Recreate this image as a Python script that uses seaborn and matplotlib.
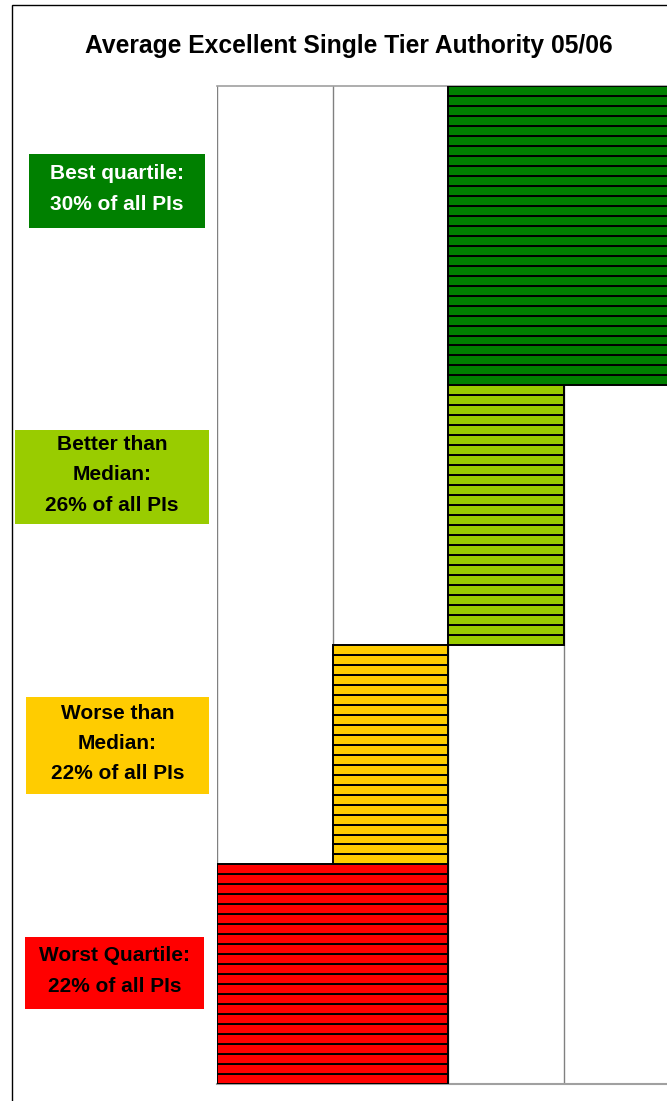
import numpy as np
import pandas as pd
import matplotlib
matplotlib.use("Agg")
import matplotlib.pyplot as plt
from matplotlib.patches import Rectangle
import seaborn as sns

# ---------------- data ----------------
title = "Average Excellent Single Tier Authority 05/06"
groups = ["Worst Quartile:", "Worse than\nMedian:", "Better than\nMedian:", "Best quartile:"]
shares = [22, 22, 26, 30]          # % of all PIs, one stripe per percent
col_start = [0, 1, 2, 2]           # column where each band starts
col_span = [2, 1, 1, 2]            # number of columns each band covers
n_columns = 4

colors = ["#FF0000", "#FFCC00", "#99CC00", "#008000"]
text_colors = ["black", "black", "black", "white"]

# label boxes (pixel layout: x0, y0, x1, y1)
boxes = [(25, 937, 204, 1009), (26, 697, 209, 794), (15, 430, 209, 524), (29, 154, 205, 228)]

W, H = 667, 1101

sns.set_theme(style="white")
plt.rcParams["font.family"] = ["Liberation Sans", "DejaVu Sans"]

fig = plt.figure(figsize=(W / 100, H / 100), dpi=100)
fig.patch.set_facecolor("white")

# plot area: x 217 .. (217 + 4*col_w), y 86 .. 1084
ax_left, ax_top, ax_bottom, col_w = 217, 86, 1084, 115.7
ax = fig.add_axes([ax_left / W, 1 - ax_bottom / H, n_columns * col_w / W, (ax_bottom - ax_top) / H])
ax.set_facecolor("white")

rows = []
base = 0
for g, s, c0, sp in zip(groups, shares, col_start, col_span):
    for k in range(s):
        rows.append(dict(group=g, pos=base + k + 0.5, span=sp))
    base += s
df = pd.DataFrame(rows)

for i, g in enumerate(groups):
    sub = df[df["group"] == g]
    sns.barplot(data=sub, x="span", y="pos", orient="y", native_scale=True,
                left=col_start[i], color=colors[i], saturation=1,
                edgecolor="black", linewidth=1.4, width=1, errorbar=None,
                ax=ax, zorder=3)

for c in range(n_columns):
    ax.axvline(c, color="#808080", lw=1.0, zorder=1)

ax.set_xlim(0, n_columns)
ax.set_ylim(0, 100)
ax.set_xticks([])
ax.set_yticks([])
ax.set_xlabel("")
ax.set_ylabel("")
for side in ["left", "right"]:
    ax.spines[side].set_visible(False)
ax.spines["top"].set_color("#A0A0A0")
ax.spines["bottom"].set_color("#A0A0A0")
ax.spines["top"].set_linewidth(1.2)
ax.spines["bottom"].set_linewidth(1.5)

# outer chart frame
fig.add_artist(Rectangle((12 / W, -0.1), 1.2, 1 - 5 / H + 0.1, transform=fig.transFigure,
                         fill=False, edgecolor="black", lw=1.0))

fig.text(348.5 / W, 1 - 46 / H, title, ha="center", va="center",
         fontsize=17.7, fontweight="bold", color="black")

for g, s, (x0, y0, x1, y1), fc, tc in zip(groups, shares, boxes, colors, text_colors):
    fig.add_artist(Rectangle((x0 / W, 1 - y1 / H), (x1 - x0) / W, (y1 - y0) / H,
                             transform=fig.transFigure, facecolor=fc, edgecolor="none"))
    fig.text((x0 + x1) / 2 / W, 1 - ((y0 + y1) / 2 - 2) / H, f"{g}\n{s}% of all PIs",
             ha="center", va="center", fontsize=15, fontweight="bold", color=tc,
             linespacing=1.75)

fig.savefig("out.png", dpi=100)
